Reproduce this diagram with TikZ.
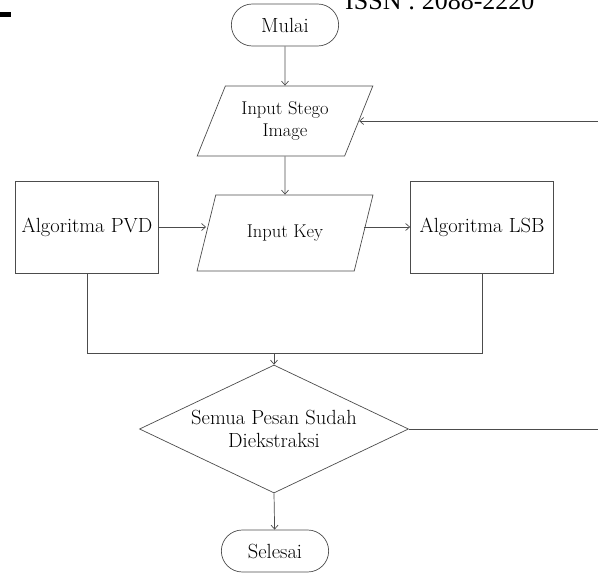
\documentclass[tikz,border=0pt]{standalone}
\usepackage{fontspec}
\newfontfamily\hdrfont{Liberation Serif}
\usetikzlibrary{shapes.geometric,shapes.misc,arrows.meta}
\tikzset{
  line/.style={draw=black!70,line width=0.7pt},
  arr/.style={line,-{Straight Barb[length=4pt,width=7pt]}},
  terminal/.style={line,rounded rectangle,minimum width=114pt,minimum height=42pt,font=\fontsize{20.5}{24}\selectfont},
  io/.style={line,trapezium,trapezium left angle=64,trapezium right angle=116,trapezium stretches=true,minimum width=176pt,align=center,font=\fontsize{18.5}{22}\selectfont},
  process/.style={line,rectangle,minimum width=143pt,minimum height=92pt,font=\fontsize{20.5}{24}\selectfont},
  decision/.style={line,diamond,aspect=2.1,inner sep=0pt,minimum width=269pt,minimum height=128pt,align=center,font=\fontsize{20.5}{23}\selectfont}
}
\begin{document}
\begin{tikzpicture}[x=1pt,y=-1pt]
\useasboundingbox (0,0) rectangle (598,575);
\fill (0,12) rectangle (11,17);
\node[anchor=base west,inner sep=0pt,font=\hdrfont\fontsize{26}{28}\selectfont] (issn) at (345,10) {ISSN : 2088-2220};
\node[terminal] (mulai) at (285,25) {Mulai};
\node[io,minimum height=70pt] (stego) at (285,121) {Input Stego\\Image};
\node[process] (pvd) at (87,227) {Algoritma PVD};
\node[io,minimum height=76pt] (key) at (285,233) {Input Key};
\node[process] (lsb) at (482,227) {Algoritma LSB};
\coordinate (join) at (274,353);
\node[decision] (dec) at (274,429) {Semua Pesan Sudah\\Diekstraksi};
\node[terminal] (selesai) at (275,551) {Selesai};
\coordinate (back) at (612,429);
\draw[arr] (mulai) -- (stego);
\draw[arr] (stego) -- (key);
\draw[arr] (pvd.east) -- (pvd.east -| key.west);
\draw[arr] (lsb.west -| key.east) -- (lsb.west);
\draw[line] (pvd.south) |- (join);
\draw[line] (lsb.south) |- (join);
\draw[arr] (join) -- (dec.north);
\draw[arr] (dec.south) -- (selesai);
\draw[arr] (dec.east) -- (back) |- (stego.east);
\end{tikzpicture}
\end{document}
